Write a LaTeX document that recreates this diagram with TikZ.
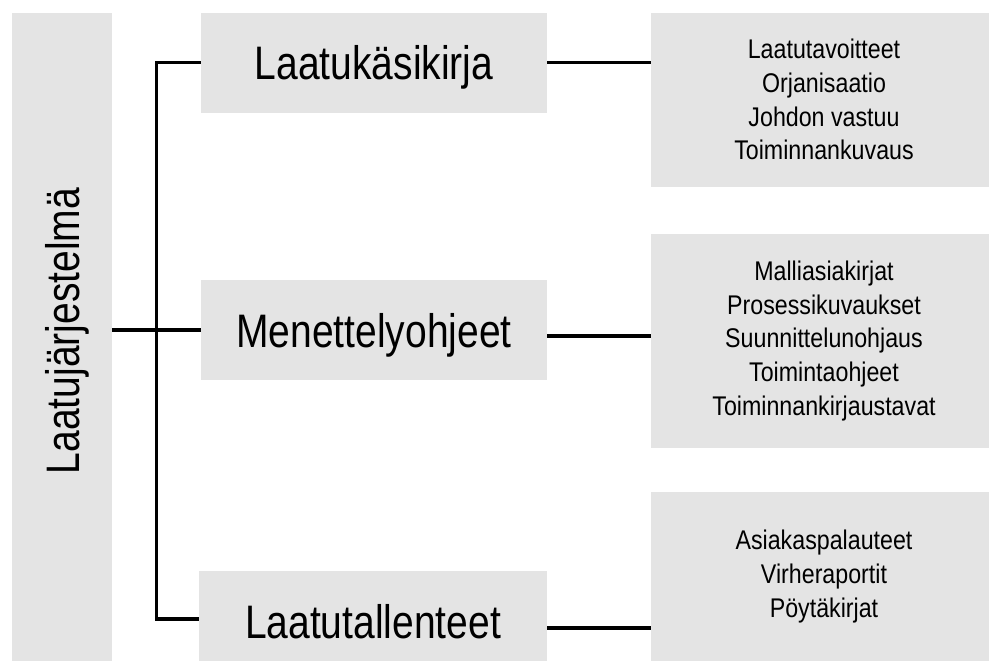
\documentclass[tikz,border=0pt]{standalone}
\usepackage{fontspec}
\newfontfamily\bigf{Liberation Sans}[FakeStretch=0.83]
\newfontfamily\smallf{Liberation Sans}[FakeStretch=0.86]
\definecolor{boxgray}{RGB}{228,228,228}
\begin{document}
\begin{tikzpicture}[x=1pt,y=-1pt,
  box/.style={fill=boxgray, draw=none, inner sep=0pt, anchor=center},
  bigtxt/.style={font=\bigf\fontsize{47}{56}\selectfont, text height=34pt, text depth=0pt},
  smalltxt/.style={font=\smallf\fontsize{27}{33.7}\selectfont, align=center},
  conn/.style={draw=black, line width=3.4pt}]
\useasboundingbox (0,0) rectangle (989,661);
% main vertical box
\node[box, bigtxt, rotate=90, minimum width=648pt, minimum height=100pt] (sys) at (62,337) {\hspace*{12pt}Laatujärjestelmä};
% middle column
\node[box, bigtxt, minimum width=346pt, minimum height=100pt] (k1) at (374,62.7) {Laatukäsikirja};
\node[box, bigtxt, minimum width=346pt, minimum height=100pt] (m1) at (374,330) {Menettelyohjeet};
\node[box, bigtxt, minimum width=348pt, minimum height=100pt] (t1) at (373,621) {Laatutallenteet};
% right column
\node[box, smalltxt, minimum width=346pt, minimum height=174pt] (r1) at (824,99.7) {Laatutavoitteet\\Orjanisaatio\\Johdon vastuu\\Toiminnankuvaus};
\node[box, smalltxt, minimum width=346pt, minimum height=214pt] (r2) at (824,341) {Malliasiakirjat\\Prosessikuvaukset\\Suunnittelunohjaus\\Toimintaohjeet\\Toiminnankirjaustavat};
\node[box, smalltxt, minimum width=346pt, minimum height=169pt] (r3) at (824,576.5) {Asiakaspalauteet\\Virheraportit\\Pöytäkirjat};
% spine and connector ends
\coordinate (sp) at (156.5,0);
\coordinate (tw) at ([yshift=2pt]t1.west);
\coordinate (me) at ([yshift=-6pt]m1.east);
\coordinate (te) at ([yshift=-7pt]t1.east);
\draw[conn] (k1.west) -- (sp |- k1.west) -- (sp |- tw) -- (tw);
\draw[conn] (sys.south |- m1.west) -- (m1.west);
% right connectors
\draw[conn] (k1.east) -- (r1.west |- k1.east);
\draw[conn] (me) -- (me -| r2.west);
\draw[conn] (te) -- (te -| r3.west);
\end{tikzpicture}
\end{document}
